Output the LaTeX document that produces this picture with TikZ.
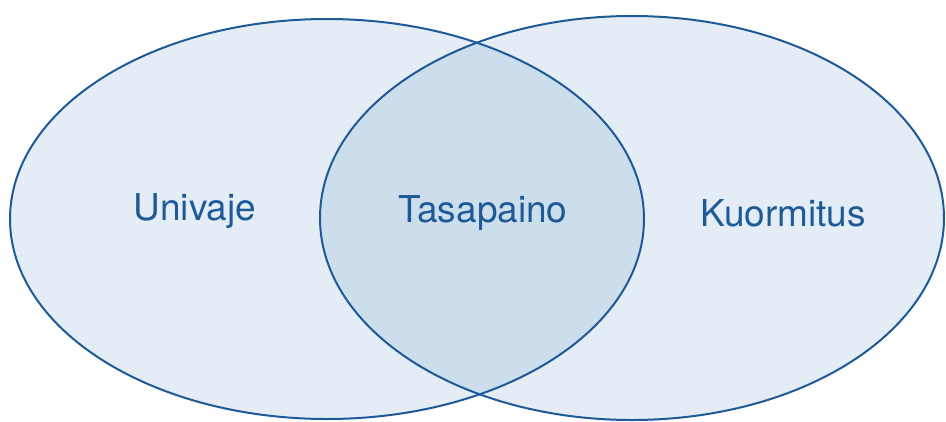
\documentclass[tikz,border=0pt]{standalone}
\usepackage{fontspec}
\setmainfont{TeX Gyre Heros}
\definecolor{vennline}{HTML}{1D5A97}
\definecolor{vennfill}{HTML}{E4EDF6}
\definecolor{venncore}{HTML}{CCDDEC}
\tikzset{
  rim/.style={draw=vennline, line width=2pt},
  word/.style={text=vennline, font=\fontsize{37}{40}\selectfont}
}
\begin{document}
\begin{tikzpicture}[x=1pt,y=-1pt]
  \useasboundingbox (0,0) rectangle (946,421);

  % sets
  \fill[vennfill] (327,219) ellipse [x radius=317pt, y radius=200pt];
  \fill[vennfill] (632,218) ellipse [x radius=312pt, y radius=202pt];
  \begin{scope}
    \clip (327,219) ellipse [x radius=317pt, y radius=200pt];
    \fill[venncore] (632,218) ellipse [x radius=312pt, y radius=202pt];
  \end{scope}
  \draw[rim] (327,219) ellipse [x radius=317pt, y radius=200pt];
  \draw[rim] (632,218) ellipse [x radius=312pt, y radius=202pt];

  % labels
  \node[word] (univaje) at (195,211) {Univaje};
  \node[word] (tasapaino) at (483,213) {Tasapaino};
  \node[word] (kuormitus) at (783,213) {Kuormitus};
\end{tikzpicture}
\end{document}
